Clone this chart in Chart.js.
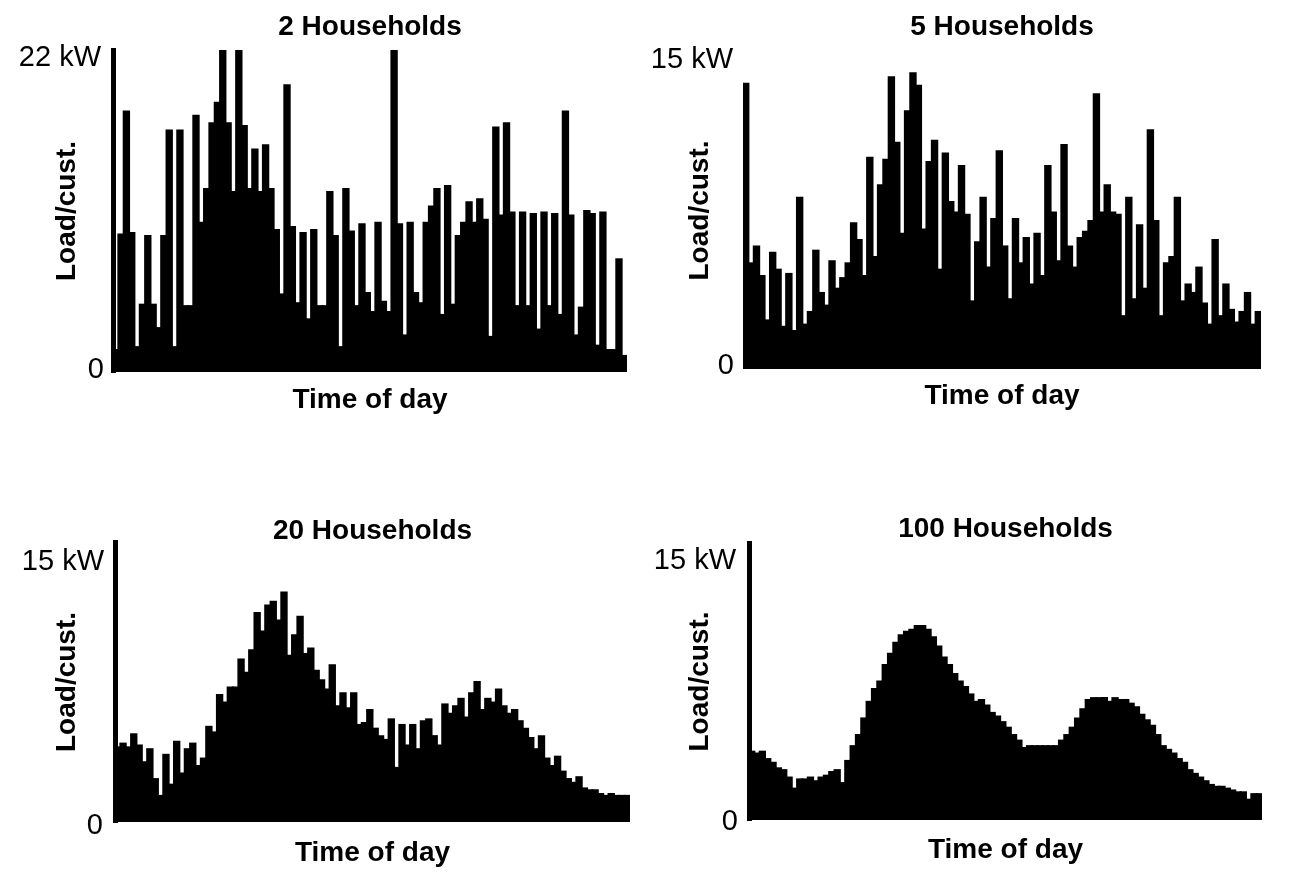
<!DOCTYPE html>
<html>
<head>
<meta charset="utf-8">
<title>Load per customer</title>
<script src="https://cdn.jsdelivr.net/npm/chart.js@4.4.1/dist/chart.umd.min.js"></script>
<style>
  body { margin: 0; background: #fff; }
  #wrap { position: relative; width: 1312px; height: 885px; overflow: hidden; }
  canvas { position: absolute; }
</style>
</head>
<body>
<div id="wrap">
  <canvas id="p1" width="656" height="442" style="left:0;top:0"></canvas>
  <canvas id="p2" width="692" height="442" style="left:620px;top:0"></canvas>
  <canvas id="p3" width="656" height="443" style="left:0;top:442px"></canvas>
  <canvas id="p4" width="692" height="443" style="left:620px;top:442px"></canvas>
</div>
<script>
// 96 quarter-hour slots over one day
const slots = Array.from({ length: 96 }, (_, i) => {
  const h = String(Math.floor(i / 4)).padStart(2, "0");
  const m = String((i % 4) * 15).padStart(2, "0");
  return h + ":" + m;
});

// kW per customer, one value per slot
const load2 = [
  1.5, 9.4, 17.8, 9.5, 1.7, 4.6, 9.3, 4.6, 3.0, 9.3,
  16.5, 1.7, 16.5, 4.5, 4.5, 17.5, 10.2, 12.5, 17.0, 18.4,
  22, 17.0, 12.3, 22, 16.8, 12.5, 15.2, 12.3, 15.5, 12.5,
  9.7, 5.3, 19.6, 9.9, 4.7, 9.5, 3.6, 9.7, 4.5, 4.5,
  12.3, 9.3, 1.7, 12.5, 9.6, 4.5, 10.1, 5.4, 4.1, 10.2,
  4.8, 4.1, 22, 10.1, 2.5, 10.2, 5.4, 4.7, 10.2, 11.3,
  12.5, 3.9, 12.7, 4.6, 9.3, 10.2, 11.6, 10.2, 11.8, 10.4,
  2.4, 16.7, 10.7, 17.0, 10.9, 4.5, 10.9, 4.5, 10.8, 2.9,
  10.9, 4.5, 10.8, 3.9, 17.8, 10.7, 2.5, 4.4, 11.0, 10.8,
  1.8, 10.9, 1.5, 1.5, 7.7, 1.1
];
const load5 = [
  13.5, 5.0, 5.8, 4.4, 2.3, 5.5, 4.7, 2.0, 4.5, 1.8,
  8.1, 2.1, 2.7, 5.6, 3.6, 3.0, 5.1, 3.8, 4.3, 5.0,
  6.9, 6.1, 4.4, 10.0, 5.3, 8.7, 9.9, 13.8, 10.7, 6.4,
  12.2, 14.0, 13.4, 6.6, 9.8, 10.8, 4.7, 10.2, 7.9, 7.4,
  9.6, 7.3, 3.2, 6.0, 8.1, 4.8, 7.1, 10.3, 5.8, 3.3,
  7.1, 5.0, 6.2, 4.0, 6.4, 4.4, 9.6, 7.4, 5.1, 10.6,
  5.8, 4.8, 6.2, 6.5, 7.0, 13.0, 7.4, 8.7, 7.4, 7.3,
  2.5, 8.1, 3.3, 6.8, 3.8, 11.3, 7.0, 2.5, 5.0, 5.3,
  8.1, 3.2, 4.0, 3.6, 4.8, 3.1, 2.1, 6.1, 2.5, 4.0,
  2.8, 2.2, 2.7, 3.6, 2.1, 2.7
];
const load20 = [
  4.0, 4.2, 4.0, 4.7, 4.1, 3.2, 3.9, 2.3, 1.4, 3.6,
  2.0, 4.3, 2.6, 3.9, 4.2, 3.0, 3.4, 5.1, 4.8, 6.8,
  6.4, 7.2, 7.2, 8.7, 8.0, 9.2, 11.2, 10.2, 11.6, 11.8,
  10.8, 12.3, 8.9, 10.0, 11.0, 9.0, 9.3, 8.1, 7.6, 7.1,
  8.4, 6.2, 6.9, 6.1, 6.9, 5.2, 5.3, 6.0, 5.0, 4.6,
  4.4, 5.5, 2.9, 5.2, 4.1, 5.2, 3.9, 5.4, 5.5, 4.6,
  4.1, 6.3, 5.8, 6.2, 6.6, 5.6, 6.9, 7.5, 6.0, 6.6,
  6.4, 7.1, 6.2, 5.8, 6.0, 5.4, 5.0, 4.5, 3.9, 4.6,
  3.4, 3.0, 3.5, 2.7, 2.3, 2.1, 2.4, 1.8, 1.7, 1.7,
  1.5, 1.4, 1.5, 1.4, 1.4, 1.4
];
const load100 = [
  3.7, 3.6, 3.7, 3.3, 3.1, 2.8, 2.7, 2.3, 1.7, 2.2,
  2.2, 2.3, 2.1, 2.3, 2.4, 2.6, 2.7, 2.0, 3.2, 4.0,
  4.6, 5.5, 6.4, 7.1, 7.5, 8.4, 9.0, 9.6, 10.0, 10.2,
  10.3, 10.5, 10.5, 10.3, 9.9, 9.4, 8.8, 8.4, 7.9, 7.5,
  7.2, 6.8, 6.4, 6.5, 6.2, 5.8, 5.6, 5.3, 5.0, 4.6,
  4.3, 3.9, 4.0, 4.0, 4.0, 4.0, 4.0, 4.0, 4.3, 4.6,
  5.0, 5.5, 6.0, 6.5, 6.6, 6.6, 6.6, 6.4, 6.6, 6.5,
  6.5, 6.3, 6.1, 5.7, 5.4, 5.1, 4.6, 4.0, 3.8, 3.6,
  3.3, 3.1, 2.7, 2.5, 2.3, 2.1, 1.9, 1.8, 1.8, 1.7,
  1.6, 1.5, 1.5, 1.1, 1.4, 1.4
];

// axis end values and their labels
const ticks2 = [0, 22];
const tickText2 = ["0", "22 kW"];
const ticks15 = [0, 15];
const tickText15 = ["0", "15 kW"];

const FAMILY = "'Liberation Sans', Arial, Helvetica, sans-serif";

// writes the two end labels next to the y axis
const edgeLabels = {
  id: "edgeLabels",
  afterDraw(chart, args, opts) {
    const y = chart.scales.y;
    const ctx = chart.ctx;
    ctx.save();
    ctx.font = "29px " + FAMILY;
    ctx.fillStyle = "#000";
    ctx.textAlign = "right";
    ctx.textBaseline = "middle";
    opts.values.forEach((v, i) => {
      ctx.fillText(opts.labels[i], chart.chartArea.left - opts.gap[i], y.getPixelForValue(v) + opts.shift[i]);
    });
    ctx.restore();
  },
};

function makePanel(id, title, values, ticks, tickText, box) {
  return new Chart(document.getElementById(id), {
    type: "bar",
    data: {
      labels: slots,
      datasets: [{
        data: values,
        backgroundColor: "#000",
        borderWidth: 0,
        inflateAmount: 1, // closes the hairline seams between neighbouring bars
        barPercentage: 1,
        categoryPercentage: 1,
      }],
    },
    plugins: [edgeLabels],
    options: {
      responsive: false,
      animation: false,
      events: [],
      layout: { padding: { left: 0, top: 0, right: box.right, bottom: box.bottom } },
      scales: {
        x: {
          grid: { display: false },
          border: { display: false },
          ticks: { display: false },
          title: {
            display: true,
            text: "Time of day",
            color: "#000",
            font: { family: FAMILY, size: 28, weight: "bold" },
            padding: { top: 0, bottom: 0 },
          },
          afterFit: (s) => { s.height = box.xHeight; },
        },
        y: {
          min: ticks[0],
          max: ticks[ticks.length - 1],
          grid: { display: false },
          border: { display: box.axis, color: "#000", width: 5 },
          ticks: { display: false },
          title: {
            display: true,
            text: "Load/cust.",
            color: "#000",
            font: { family: FAMILY, size: 28, weight: "bold" },
            padding: { top: box.yTitle, bottom: 0 },
          },
          afterFit: (s) => { s.width = box.yWidth; },
        },
      },
      plugins: {
        legend: { display: false },
        tooltip: { enabled: false },
        title: {
          display: true,
          text: title,
          color: "#000",
          fullSize: false,
          font: { family: FAMILY, size: 28, weight: "bold", lineHeight: 0.8 },
          padding: { top: box.titleTop, bottom: box.titleBottom },
        },
        edgeLabels: { values: ticks, labels: tickText, gap: box.gap, shift: box.shift },
      },
    },
  });
}

makePanel("p1", "2 Households", load2, ticks2, tickText2, {
  right: 29, bottom: 25.2, xHeight: 44.8, yWidth: 113, yTitle: 50.2,
  titleTop: 15.8, titleBottom: 11.8, axis: true, gap: [9, 12], shift: [-2, 8],
});
makePanel("p2", "5 Households", load5, ticks15, tickText15, {
  right: 51, bottom: 29.2, xHeight: 43.8, yWidth: 123, yTitle: 63.2,
  titleTop: 15.8, titleBottom: 13.8, axis: false, gap: [9, 10], shift: [-3, 8],
});
makePanel("p3", "20 Households", load20, ticks15, tickText15, {
  right: 26, bottom: 15.2, xHeight: 47.8, yWidth: 115, yTitle: 50.2,
  titleTop: 77.6, titleBottom: 0, axis: true, gap: [12, 11], shift: [4, 20],
});
makePanel("p4", "100 Households", load100, ticks15, tickText15, {
  right: 50, bottom: 18.2, xHeight: 46.8, yWidth: 129, yTitle: 63.2,
  titleTop: 75.8, titleBottom: 2.8, axis: true, gap: [11, 13], shift: [2, 18],
});
</script>
</body>
</html>
